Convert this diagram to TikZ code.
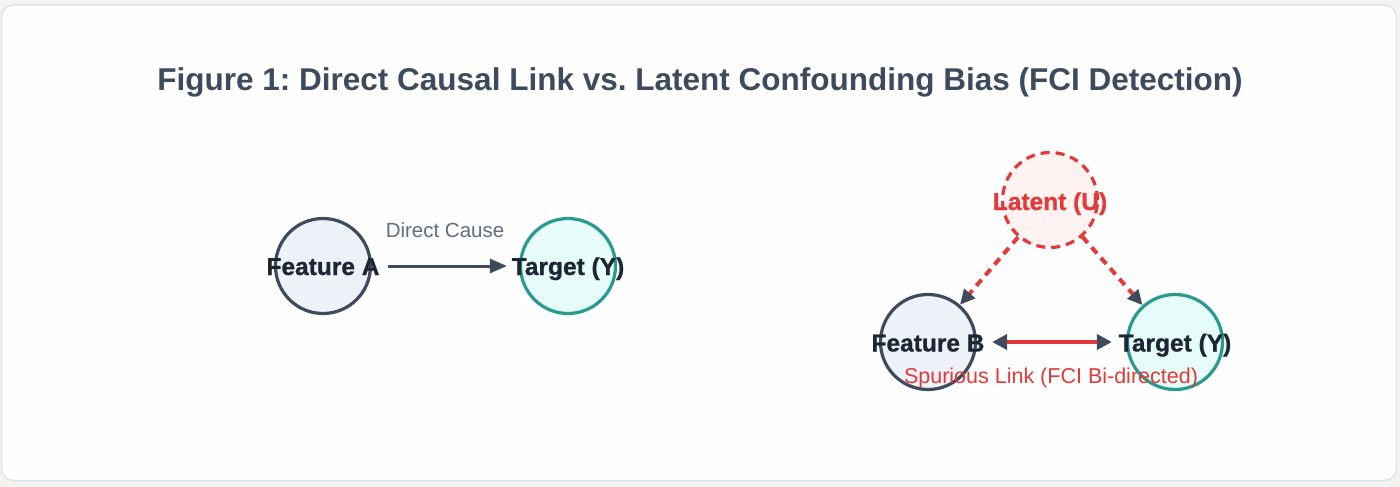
\documentclass[tikz,border=0pt]{standalone}
\usepackage{fontspec}
\setmainfont{Liberation Sans}
\newfontfamily\heavyfont{Liberation Sans Bold}[FakeBold=0.9]
\usetikzlibrary{arrows.meta}
\definecolor{outerbg}{HTML}{F4F3F1}
\definecolor{cardfill}{HTML}{FEFEFE}
\definecolor{cardline}{HTML}{DDE3EC}
\definecolor{titlecol}{HTML}{3E4A5E}
\definecolor{nodetext}{HTML}{1E2533}
\definecolor{slatecol}{HTML}{3F4A5C}
\definecolor{tealcol}{HTML}{2A9A8E}
\definecolor{fillA}{HTML}{EDF1F8}
\definecolor{fillT}{HTML}{E6FCF9}
\definecolor{fillU}{HTML}{FFF3F2}
\definecolor{redcol}{HTML}{E53939}
\definecolor{graycol}{HTML}{5F6D85}
\tikzset{
  circ/.style={circle, minimum size=95pt, inner sep=0pt, line width=3.2pt},
  featcirc/.style={circ, draw=slatecol, fill=fillA},
  targcirc/.style={circ, draw=tealcol, fill=fillT},
  latcirc/.style={circ, draw=redcol, fill=fillU, dash pattern=on 9pt off 6pt},
  nodelabel/.style={anchor=base, inner sep=0pt, font=\fontsize{24.5}{28}\heavyfont, text=nodetext},
  edgelabel/.style={anchor=base, inner sep=0pt},
  direct/.style={line width=3pt, draw=slatecol, -{Triangle[length=17pt,width=14pt]}},
  confound/.style={line width=4pt, draw=redcol, dash pattern=on 8pt off 6pt, -{Triangle[length=15pt,width=14pt,color=slatecol]}},
  bidir/.style={line width=4pt, draw=redcol, {Triangle[length=15pt,width=15pt,color=slatecol]}-{Triangle[length=15pt,width=15pt,color=slatecol]}},
}
\begin{document}
\frenchspacing
\begin{tikzpicture}[x=1pt,y=-1pt]
\useasboundingbox (0,0) rectangle (1400,487);
\fill[outerbg] (0,0) rectangle (1400,487);
\draw[cardline, fill=cardfill, line width=1.5pt, rounded corners=12pt] (1.5,5) rectangle (1396.5,480.5);

\node[anchor=base, inner sep=0pt, text=titlecol, font=\fontsize{31.5}{36}\selectfont\bfseries] (title) at (700,91) {Figure 1: Direct Causal Link vs. Latent Confounding Bias (FCI Detection)};

% left diagram
\node[featcirc] (A) at (323,266) {};
\node[targcirc] (TA) at (568,266) {};
\draw[direct, shorten <=16pt, shorten >=12pt] (A) -- (TA);
\node[nodelabel] (Alab) at (323,275) {Feature A};
\node[nodelabel] (TAlab) at (568,275) {Target (Y)};
\node[edgelabel, text=graycol, font=\fontsize{20.5}{24}\selectfont] (dlab) at (445,237.3) {Direct Cause};

% right diagram
\node[latcirc] (U) at (1050,200) {};
\node[featcirc] (B) at (928,342) {};
\node[targcirc] (TB) at (1175,342) {};
\draw[confound] (U) -- (B);
\draw[confound] (U) -- (TB);
\draw[bidir, shorten <=15pt, shorten >=14pt] (B) -- (TB);
\node[nodelabel, text=redcol] (Ulab) at (1050,210) {Latent (U)};
\node[nodelabel] (Blab) at (928,351.5) {Feature B};
\node[nodelabel] (TBlab) at (1175,351.5) {Target (Y)};
\node[edgelabel, text=redcol, font=\fontsize{21.5}{25}\selectfont] (slab) at (1051,383.3) {Spurious Link (FCI Bi-directed)};
\end{tikzpicture}
\end{document}
